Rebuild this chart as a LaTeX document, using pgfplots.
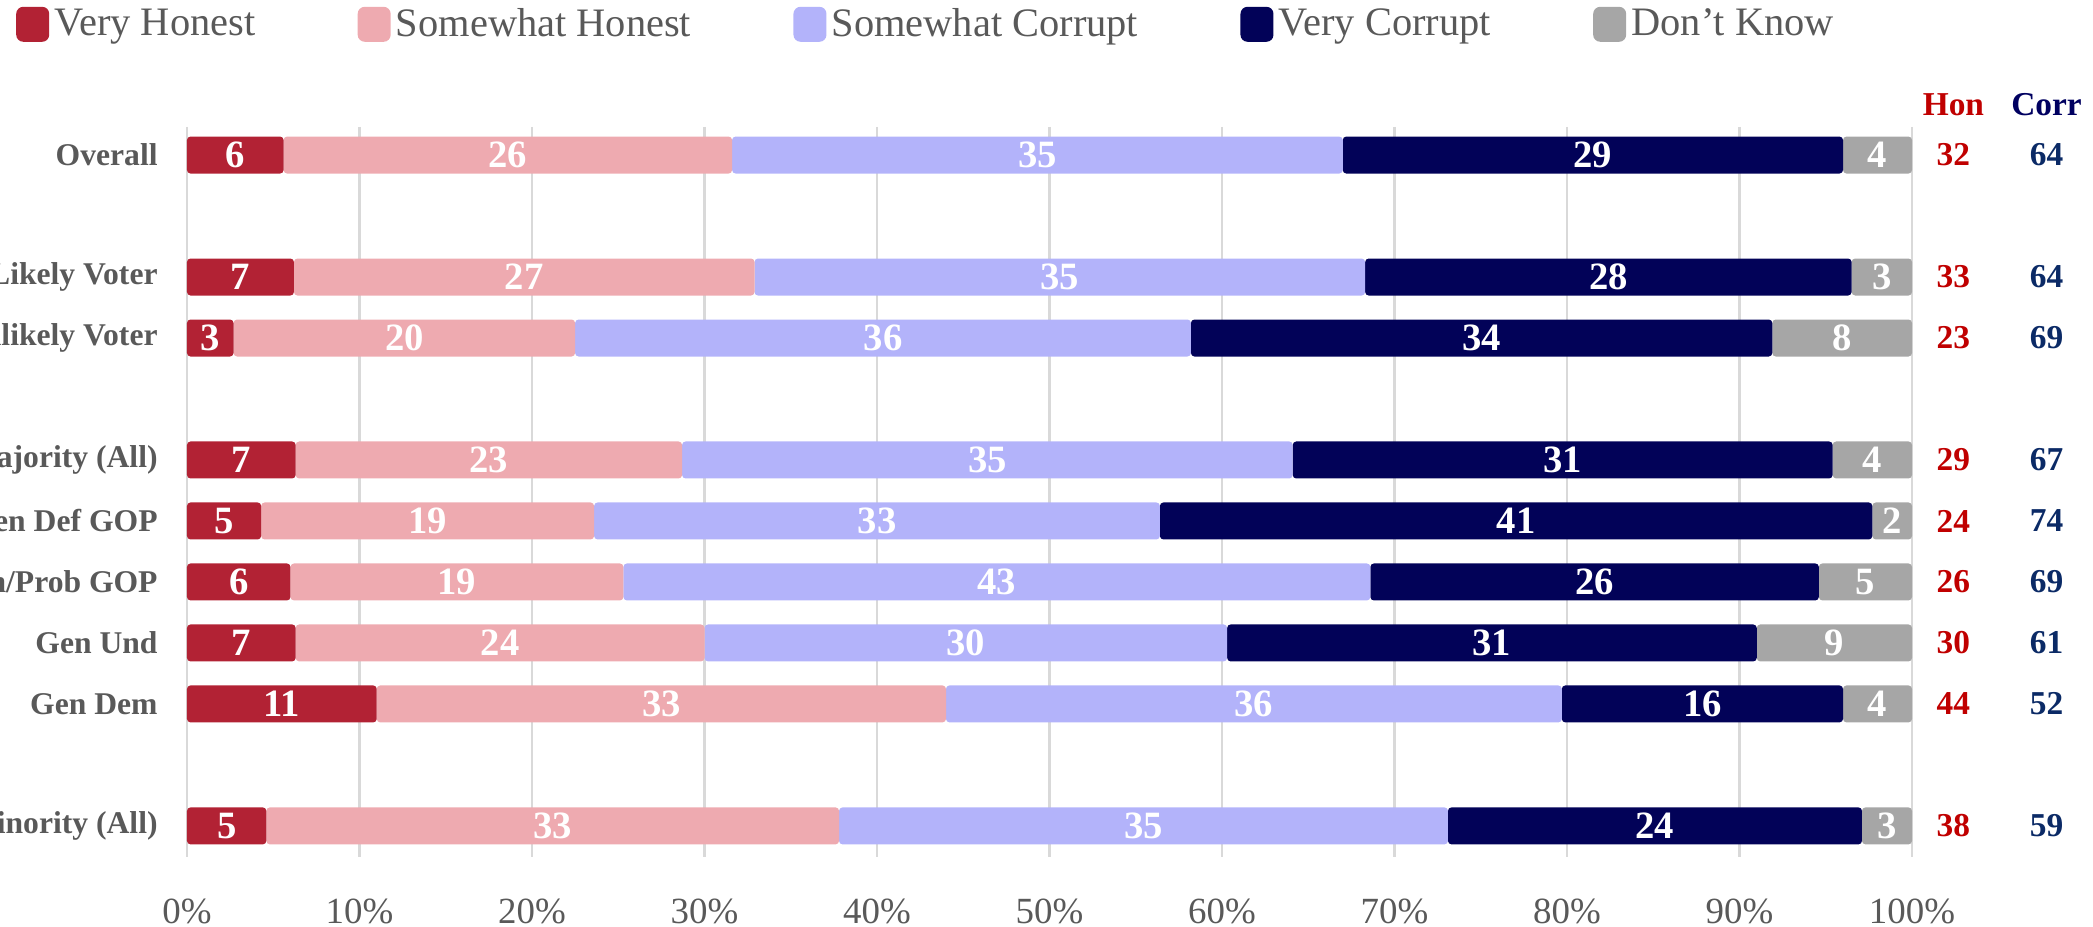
\documentclass[border=0pt]{standalone}
\usepackage{pgfplots}
\pgfplotsset{compat=1.18}
\usepackage{pgfplotstable}
\usepackage{fontspec}
\setmainfont{Liberation Serif}

\definecolor{vh}{HTML}{B22234}
\definecolor{sh}{HTML}{EEAAB0}
\definecolor{sc}{HTML}{B3B3FA}
\definecolor{vc}{HTML}{020258}
\definecolor{dk}{HTML}{A6A6A6}
\definecolor{txt}{HTML}{595959}
\definecolor{honred}{HTML}{C00000}
\definecolor{corrnavy}{HTML}{0B2A66}
\definecolor{corrhead}{HTML}{000060}
\definecolor{gridc}{HTML}{D9D9D9}

% row, segment widths (as drawn), printed labels, Hon / Corr totals
\pgfplotstableread{
y  vh   sh   sc   vc   dk  lvh lsh lsc lvc ldk hon corr
0  5.6  26.0 35.4 29.0 4.0 6   26  35  29  4   32  64
2  6.2  26.7 35.4 28.2 3.5 7   27  35  28  3   33  64
3  2.7  19.8 35.7 33.7 8.1 3   20  36  34  8   23  69
5  6.3  22.4 35.4 31.3 4.6 7   23  35  31  4   29  67
6  4.3  19.3 32.8 41.3 2.3 5   19  33  41  2   24  74
7  6.0  19.3 43.3 26.0 5.4 6   19  43  26  5   26  69
8  6.3  23.7 30.3 30.7 9.0 7   24  30  31  9   30  61
9  11.0 33.0 35.7 16.3 4.0 11  33  36  16  4   44  52
11 4.6  33.2 35.3 24.0 2.9 5   33  35  24  3   38  59
}\data

\begin{document}
\begin{tikzpicture}
\begin{axis}[
  scale only axis, width=17.25cm, height=7.30cm,
  xbar stacked, bar width=0.37cm,
  xmin=0, xmax=100, ymin=-0.46, ymax=11.51, y dir=reverse,
  clip=false,
  axis line style={draw=none}, major tick length=0pt,
  xtick={0,10,...,100},
  xticklabels={0\%,10\%,20\%,30\%,40\%,50\%,60\%,70\%,80\%,90\%,100\%},
  xmajorgrids, major grid style={draw=gridc, line width=0.6pt},
  ytick={0,2,3,5,6,7,8,9,11},
  yticklabels={Overall,Likely Voter,Unlikely Voter,Majority (All),Gen Def GOP,Gen Lean/Prob GOP,Gen Und,Gen Dem,Minority (All)},
  yticklabel style={font=\fontsize{9}{10}\selectfont\bfseries, text=txt, xshift=-0.17cm},
  xticklabel style={font=\fontsize{10.5}{12}\selectfont, text=txt, yshift=-0.3cm},
  legend columns=-1,
  legend image code/.code={\fill[#1,rounded corners=2pt] (0cm,-0.17cm) rectangle (0.33cm,0.18cm);},
  legend style={at={(axis description cs:-0.099,1.14)}, anchor=west,
    draw=none, fill=none, inner sep=0pt, outer sep=0pt,
    font=\fontsize{11.5}{13}\selectfont, text=txt,
    nodes={inner sep=1.5pt},
    /tikz/every even column/.append style={column sep=0.97cm}},
]
\addplot[fill=vh, draw=none, rounded corners=1pt] table[x=vh, y=y] {\data};
\addplot[fill=sh, draw=none, rounded corners=1pt] table[x=sh, y=y] {\data};
\addplot[fill=sc, draw=none, rounded corners=1pt] table[x=sc, y=y] {\data};
\addplot[fill=vc, draw=none, rounded corners=1pt] table[x=vc, y=y] {\data};
\addplot[fill=dk, draw=none, rounded corners=1pt] table[x=dk, y=y] {\data};
\legend{Very Honest,Somewhat Honest,Somewhat Corrupt,Very Corrupt,Don't Know}
\end{axis}

% labels: segment values at segment centres, Hon / Corr totals on the right
\begin{axis}[
  scale only axis, width=17.25cm, height=7.30cm,
  xmin=0, xmax=100, ymin=-0.46, ymax=11.51, y dir=reverse,
  hide axis, clip=false,
  point meta=explicit symbolic,
  nodes near coords,
  nodes near coords style={anchor=center, font=\fontsize{9.5}{11}\selectfont\bfseries},
]
\pgfplotsset{seg/.style={draw=none, nodes near coords style={text=white, font=\fontsize{11}{12}\selectfont\bfseries}}}
\addplot[seg] table[x expr=\thisrow{vh}/2, y=y, meta=lvh] {\data};
\addplot[seg] table[x expr=\thisrow{vh}+\thisrow{sh}/2, y=y, meta=lsh] {\data};
\addplot[seg] table[x expr=\thisrow{vh}+\thisrow{sh}+\thisrow{sc}/2, y=y, meta=lsc] {\data};
\addplot[seg] table[x expr=100-\thisrow{dk}-\thisrow{vc}/2, y=y, meta=lvc] {\data};
\addplot[seg] table[x expr=100-\thisrow{dk}/2, y=y, meta=ldk] {\data};
\addplot[draw=none, nodes near coords style={text=honred}] table[x expr=102.4, y=y, meta=hon] {\data};
\addplot[draw=none, nodes near coords style={text=corrnavy}] table[x expr=107.8, y=y, meta=corr] {\data};
\addplot[draw=none, nodes near coords style={text=honred}] coordinates {(102.4,-0.82) [Hon]};
\addplot[draw=none, nodes near coords style={text=corrhead}] coordinates {(107.8,-0.82) [Corr]};
\end{axis}
\pgfresetboundingbox
\path (-1.87cm,-0.70cm) rectangle (19.06cm,8.57cm);
\end{tikzpicture}
\end{document}
